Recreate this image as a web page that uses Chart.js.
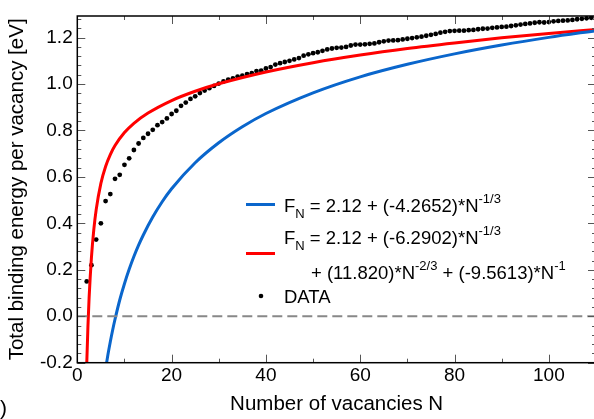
<!DOCTYPE html>
<html>
<head>
<meta charset="utf-8">
<script src="https://cdn.jsdelivr.net/npm/chart.js@4.4.1/dist/chart.umd.min.js"></script>
<style>
  html, body { margin: 0; padding: 0; background: #fff; overflow: hidden; }
  #wrap { width: 600px; height: 419px; }
</style>
</head>
<body>
<div id="wrap"><canvas id="chart" width="600" height="419"></canvas></div>
<script>
// ---- data ----
const dataN = [
  2, 3, 4, 5, 6, 7, 8, 9, 10, 11, 12, 13, 14, 15, 16, 17, 18, 19, 20, 21,
  22, 23, 24, 25, 26, 27, 28, 29, 30, 31, 32, 33, 34, 35, 36, 37, 38, 39, 40, 41,
  42, 43, 44, 45, 46, 47, 48, 49, 50, 51, 52, 53, 54, 55, 56, 57, 58, 59, 60, 61,
  62, 63, 64, 65, 66, 67, 68, 69, 70, 71, 72, 73, 74, 75, 76, 77, 78, 79, 80, 81,
  82, 83, 84, 85, 86, 87, 88, 89, 90, 91, 92, 93, 94, 95, 96, 97, 98, 99, 100, 101,
  102, 103, 104, 105, 106, 107, 108, 109, 110
];
const dataE = [
  0.150, 0.220, 0.330, 0.400, 0.496, 0.526, 0.592, 0.609, 0.652, 0.680,
  0.716, 0.744, 0.768, 0.786, 0.803, 0.823, 0.836, 0.852, 0.871, 0.885,
  0.906, 0.920, 0.936, 0.947, 0.961, 0.972, 0.982, 0.992, 1.002, 1.011,
  1.019, 1.024, 1.032, 1.036, 1.043, 1.047, 1.056, 1.058, 1.067, 1.073,
  1.084, 1.090, 1.095, 1.100, 1.106, 1.112, 1.122, 1.128, 1.133, 1.137,
  1.143, 1.149, 1.153, 1.156, 1.157, 1.160, 1.166, 1.170, 1.170, 1.171,
  1.173, 1.175, 1.180, 1.184, 1.187, 1.188, 1.189, 1.192, 1.195, 1.198,
  1.201, 1.204, 1.208, 1.212, 1.216, 1.221, 1.225, 1.228, 1.229, 1.230,
  1.230, 1.232, 1.233, 1.236, 1.238, 1.239, 1.242, 1.244, 1.246, 1.247,
  1.250, 1.253, 1.256, 1.259, 1.261, 1.264, 1.266, 1.265, 1.267, 1.270,
  1.272, 1.273, 1.274, 1.276, 1.279, 1.281, 1.283, 1.285, 1.287
];

// fit 1: F = 2.12 + (-4.2652)*N^-1/3  (values as drawn)
const fit1N = [6, 6.5, 7, 7.5, 8, 9, 10, 11, 12, 13, 14, 16, 18, 20, 25, 30, 35, 40, 50, 60, 70, 80, 90, 100, 110];
const fit1E = [-0.227, -0.165, -0.110, -0.059, -0.013, 0.070, 0.140, 0.202, 0.257, 0.306, 0.350, 0.427, 0.493,
               0.549, 0.661, 0.747, 0.816, 0.873, 0.962, 1.031, 1.085, 1.130, 1.168, 1.201, 1.230];

// fit 2: four-term expansion (values as drawn)
const fit2N = [1.5, 1.75, 2, 2.25, 2.5, 3, 3.5, 4, 5, 6, 7, 8, 10, 12, 15, 20, 25, 30, 40, 50, 60, 70, 80, 90, 100, 110];
const fit2E = [-0.729, -0.424, -0.207, -0.046, 0.078, 0.254, 0.373, 0.458, 0.572, 0.645, 0.696, 0.735, 0.791,
               0.831, 0.875, 0.929, 0.969, 1.001, 1.052, 1.092, 1.125, 1.153, 1.177, 1.199, 1.218, 1.235];

const zeroN = [0, 110];
const zeroE = [0, 0];

const xTicks = [0, 20, 40, 60, 80, 100];
const yTicks = [-0.2, 0.0, 0.2, 0.4, 0.6, 0.8, 1.0, 1.2];

const FONT = '"Liberation Sans", Arial, sans-serif';
const BLUE = '#0a66cc';
const RED = '#ff0000';

const pts = (xs, ys) => xs.map((x, i) => ({ x: x, y: ys[i] }));

// frame, inward ticks on all sides, legend and the stray panel label
const framePlugin = {
  id: 'frame',
  afterDraw(chart) {
    const { ctx, chartArea: a, scales: { x, y } } = chart;
    ctx.save();
    ctx.strokeStyle = '#555';
    ctx.lineWidth = 1;
    ctx.beginPath();
    for (let v = 0; v <= 110; v += 10) {
      const px = Math.round(x.getPixelForValue(v)) + 0.5;
      const len = v % 20 === 0 ? 8 : 4;
      ctx.moveTo(px, a.bottom); ctx.lineTo(px, a.bottom - len);
      ctx.moveTo(px, a.top); ctx.lineTo(px, a.top + len);
    }
    for (let k = -5; k <= 33; k++) {
      const v = k * 0.04;
      const py = Math.round(y.getPixelForValue(v)) + 0.5;
      if (py < a.top) continue;
      const len = k % 5 === 0 ? 8 : 4;
      ctx.moveTo(a.left, py); ctx.lineTo(a.left + len, py);
      ctx.moveTo(a.right, py); ctx.lineTo(a.right - len, py);
    }
    ctx.stroke();

    ctx.strokeStyle = '#000';
    ctx.lineWidth = 1.5;
    ctx.strokeRect(a.left, a.top, a.right - a.left, a.bottom - a.top);

    // legend
    const big = '18.5px ' + FONT, small = '13px ' + FONT;
    ctx.fillStyle = '#000';
    ctx.textBaseline = 'alphabetic';
    ctx.textAlign = 'left';
    const rich = (parts, x0, y0) => {
      let cx = x0;
      parts.forEach(p => {
        ctx.font = p.s ? small : big;
        const dy = p.s === 'sub' ? 6 : p.s === 'sup' ? -9 : 0;
        ctx.fillText(p.t, cx, y0 + dy);
        cx += ctx.measureText(p.t).width;
      });
    };
    ctx.lineWidth = 3;
    ctx.strokeStyle = BLUE;
    ctx.beginPath(); ctx.moveTo(246, 204.5); ctx.lineTo(275, 204.5); ctx.stroke();
    rich([{ t: 'F' }, { t: 'N', s: 'sub' }, { t: ' = 2.12 + (-4.2652)*N' }, { t: '-1/3', s: 'sup' }], 284, 211.5);
    ctx.strokeStyle = RED;
    ctx.beginPath(); ctx.moveTo(246, 253.5); ctx.lineTo(275, 253.5); ctx.stroke();
    rich([{ t: 'F' }, { t: 'N', s: 'sub' }, { t: ' = 2.12 + (-6.2902)*N' }, { t: '-1/3', s: 'sup' }], 284, 243.5);
    rich([{ t: '+ (11.820)*N' }, { t: '-2/3', s: 'sup' }, { t: ' + (-9.5613)*N' }, { t: '-1', s: 'sup' }], 311, 278.5);
    ctx.beginPath(); ctx.arc(261, 296, 2.3, 0, Math.PI * 2); ctx.fill();
    rich([{ t: 'DATA' }], 284, 302.5);

    ctx.font = '21px ' + FONT;
    ctx.fillText(')', 0, 415);
    ctx.restore();
  }
};

new Chart(document.getElementById('chart'), {
  type: 'scatter',
  data: {
    datasets: [
      {
        label: 'zero',
        data: pts(zeroN, zeroE),
        showLine: true,
        borderColor: '#888',
        borderWidth: 2,
        borderDash: [10, 5],
        pointRadius: 0,
        clip: 0
      },
      {
        label: 'fit1',
        data: pts(fit1N, fit1E),
        showLine: true,
        borderColor: BLUE,
        borderWidth: 3,
        pointRadius: 0,
        cubicInterpolationMode: 'monotone',
        clip: 0
      },
      {
        label: 'fit2',
        data: pts(fit2N, fit2E),
        showLine: true,
        borderColor: RED,
        borderWidth: 3,
        pointRadius: 0,
        cubicInterpolationMode: 'monotone',
        clip: 0
      },
      {
        label: 'DATA',
        data: pts(dataN, dataE),
        backgroundColor: '#000',
        borderWidth: 0,
        pointRadius: 2.4,
        clip: 0
      }
    ]
  },
  options: {
    responsive: false,
    animation: false,
    events: [],
    layout: { padding: { top: 9.3, right: 3.5, left: 0, bottom: 0 } },
    plugins: { legend: { display: false }, tooltip: { enabled: false } },
    scales: {
      x: {
        type: 'linear',
        min: 0,
        max: 110,
        afterBuildTicks: s => { s.ticks = xTicks.map(v => ({ value: v })); },
        afterFit: s => { s.height = 56.3; },
        grid: { display: false, drawTicks: false },
        border: { display: false },
        ticks: { color: '#000', font: { family: FONT, size: 19 }, padding: 2, maxRotation: 0 },
        title: { display: true, text: 'Number of vacancies N', color: '#000', font: { family: FONT, size: 20.5 }, padding: { top: 0, bottom: 2 } }
      },
      y: {
        type: 'linear',
        min: -0.2,
        max: 1.293,
        afterBuildTicks: s => { s.ticks = yTicks.map(v => ({ value: v })); },
        afterFit: s => { s.width = 77.3; },
        grid: { display: false, drawTicks: false },
        border: { display: false },
        ticks: { color: '#000', font: { family: FONT, size: 19 }, padding: 4.6, callback: v => v.toFixed(1) },
        title: { display: true, text: 'Total binding energy per vacancy [eV]', color: '#000', font: { family: FONT, size: 20.5 }, padding: { top: 5, bottom: 0 } }
      }
    }
  },
  plugins: [framePlugin]
});
</script>
</body>
</html>
